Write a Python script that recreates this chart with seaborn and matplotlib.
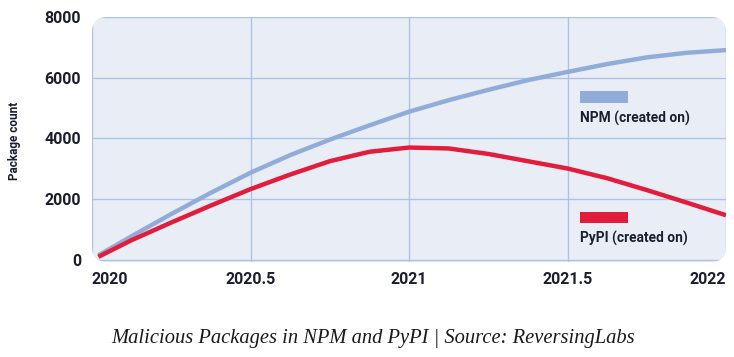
import pandas as pd
import matplotlib.pyplot as plt
import seaborn as sns
from matplotlib.patches import FancyBboxPatch, Rectangle

# values
years = [2020.02, 2020.125, 2020.25, 2020.375, 2020.5, 2020.625, 2020.75, 2020.875,
         2021.0, 2021.125, 2021.25, 2021.375, 2021.5, 2021.625, 2021.75, 2021.875, 2022.0]
npm_counts = [150, 780, 1510, 2210, 2870, 3450, 3960, 4430,
              4880, 5260, 5600, 5920, 6190, 6450, 6670, 6820, 6910]
pypi_counts = [100, 650, 1230, 1790, 2330, 2810, 3250, 3560,
               3700, 3670, 3490, 3250, 3010, 2690, 2300, 1890, 1470]
series_names = ["NPM (created on)", "PyPI (created on)"]
x_ticks = [2020, 2020.5, 2021, 2021.5, 2022]
x_tick_labels = ["2020", "2020.5", "2021", "2021.5", "2022"]
y_ticks = [0, 2000, 4000, 6000, 8000]
caption = "Malicious Packages in NPM and PyPI | Source: ReversingLabs"

npm_color = "#92ACDA"
pypi_color = "#E41C3C"
text_color = "#1C1D30"
grid_color = "#AEC2E3"
panel_color = "#E9EEF6"

df = pd.DataFrame({
    "year": years * 2,
    "count": npm_counts + pypi_counts,
    "series": [series_names[0]] * len(years) + [series_names[1]] * len(years),
})

sns.set_style("white")
plt.rcParams["font.family"] = ["Roboto", "DejaVu Sans"]

fig = plt.figure(figsize=(7.34, 3.57), dpi=100)
ax = fig.add_axes([92 / 734, 1 - 262 / 357, 634 / 734, 245 / 357])
ax.patch.set_visible(False)

# rounded background panel
panel = FancyBboxPatch((0, 0), 1, 1, boxstyle="round,pad=0,rounding_size=0.024",
                       mutation_aspect=634 / 245, transform=ax.transAxes,
                       facecolor=panel_color, edgecolor="none", zorder=-2, clip_on=False)
ax.add_patch(panel)

sns.lineplot(data=df, x="year", y="count", hue="series",
             palette=[npm_color, pypi_color], linewidth=3.2, legend=False, ax=ax, zorder=3)
for ln in ax.lines:
    ln.set_solid_capstyle("butt")
    ln.set_solid_joinstyle("round")

ax.set_xlim(2020, 2022)
ax.set_ylim(-70, 8000)
ax.set_xticks(x_ticks)
ax.set_xticklabels(x_tick_labels)
ax.set_yticks(y_ticks)
ax.tick_params(axis="both", length=0, labelsize=11.5, labelcolor=text_color)
ax.tick_params(axis="x", pad=7)
ax.tick_params(axis="y", pad=8)
for lab in ax.get_xticklabels() + ax.get_yticklabels():
    lab.set_fontweight("bold")
xl = ax.get_xticklabels()
xl[0].set_ha("left")
xl[-1].set_ha("right")

ax.grid(True, color=grid_color, linewidth=1)
ax.set_axisbelow(True)
for gl in ax.get_xgridlines() + ax.get_ygridlines():
    gl.set_clip_path(panel)
for s in ax.spines.values():
    s.set_visible(False)

ax.set_xlabel("")
ax.set_ylabel("Package count", fontsize=8.5, fontweight="bold", color=text_color)
ax.yaxis.set_label_coords(-0.112, 0.494)

# legend: swatch above label
ax.add_patch(Rectangle((0.770, 0.649), 0.0757, 0.049, transform=ax.transAxes,
                       facecolor=npm_color, edgecolor="none", zorder=4))
ax.text(0.770, 0.584, series_names[0], transform=ax.transAxes, ha="left", va="center",
        fontsize=9.9, fontweight="bold", color=text_color)
ax.add_patch(Rectangle((0.770, 0.159), 0.0757, 0.045, transform=ax.transAxes,
                       facecolor=pypi_color, edgecolor="none", zorder=4))
ax.text(0.770, 0.094, series_names[1], transform=ax.transAxes, ha="left", va="center",
        fontsize=9.9, fontweight="bold", color=text_color)

fig.text(373 / 734, 1 - 338 / 357, caption, ha="center", va="center",
         fontsize=14.8, fontstyle="italic", family=["Liberation Serif", "DejaVu Serif"],
         color="#1a1a1a")

fig.savefig("out.png", dpi=100, facecolor="white")
